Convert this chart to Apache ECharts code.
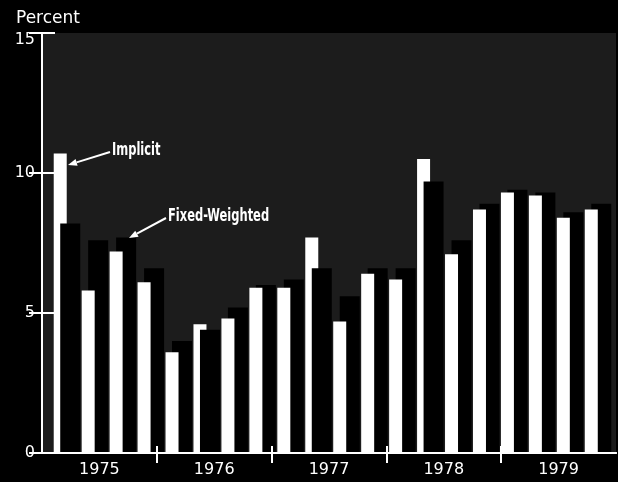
<!DOCTYPE html>
<html>
<head>
<meta charset="utf-8">
<script src="https://cdn.jsdelivr.net/npm/echarts@6/dist/echarts.min.js"></script>
<style>
html,body{margin:0;padding:0;background:#000;}
#chart{width:618px;height:482px;}
</style>
</head>
<body>
<div id="chart"></div>
<script>
// ---- data ----
var years = ['1975', '1976', '1977', '1978', '1979'];
var quarters = ['1975 Q1','1975 Q2','1975 Q3','1975 Q4','1976 Q1','1976 Q2','1976 Q3','1976 Q4',
                '1977 Q1','1977 Q2','1977 Q3','1977 Q4','1978 Q1','1978 Q2','1978 Q3','1978 Q4',
                '1979 Q1','1979 Q2','1979 Q3','1979 Q4'];
var implicit = [10.7, 5.8, 7.2, 6.1, 3.6, 4.6, 4.8, 5.9, 5.9, 7.7, 4.7, 6.4, 6.2, 10.5, 7.1, 8.7, 9.3, 9.2, 8.4, 8.7];
var fixedWeighted = [8.2, 7.6, 7.7, 6.6, 4.0, 4.4, 5.2, 6.0, 6.2, 6.6, 5.6, 6.6, 6.6, 9.7, 7.6, 8.9, 9.4, 9.3, 8.6, 8.9];
var yTicks = [0, 5, 10, 15];

// derived: the shorter bar of each pair is drawn in front
var implicitBehind = implicit.map(function (v, i) { return v > fixedWeighted[i] ? v : '-'; });
var implicitFront = implicit.map(function (v, i) { return v > fixedWeighted[i] ? '-' : v; });
var qPerYear = quarters.length / years.length;
var yearBounds = [], yearMids = [];
for (var k = 0; k < years.length; k++) {
  if (k > 0) yearBounds.push(k * qPerYear);
  yearMids.push(k * qPerYear + qPerYear / 2);
}

var W = '#ffffff';
var numFont = 'DejaVu Sans';
var annFont = "'Liberation Sans Narrow','DejaVu Sans Condensed',sans-serif";

function arrow(x1, y1, x2, y2) {
  var ang = Math.atan2(y2 - y1, x2 - x1);
  var L = 9, H = 3.5;
  var bx = x2 - L * Math.cos(ang), by = y2 - L * Math.sin(ang);
  var px = -Math.sin(ang) * H, py = Math.cos(ang) * H;
  return [
    { type: 'line', z: 100, shape: { x1: x1, y1: y1, x2: bx, y2: by }, style: { stroke: W, lineWidth: 2 } },
    { type: 'polygon', z: 100, shape: { points: [[x2, y2], [bx + px, by + py], [bx - px, by - py]] }, style: { fill: W } }
  ];
}

var chart = echarts.init(document.getElementById('chart'), null, { renderer: 'canvas' });
var option = {
  backgroundColor: '#000',
  animation: false,
  title: {
    text: 'Percent', left: 16, top: 10, padding: 0,
    textStyle: { color: W, fontSize: 17, fontWeight: 'normal', fontFamily: numFont }
  },
  grid: [
    { left: 42, right: 2, top: 33, bottom: 29, show: true, backgroundColor: '#1c1c1c', borderWidth: 0 },
    { left: 53, right: 6, top: 33, bottom: 29 }
  ],
  xAxis: [
    { type: 'value', gridIndex: 0, min: 0, max: quarters.length, position: 'bottom', z: 10,
      axisLine: { show: true, lineStyle: { color: W, width: 2 } }, splitLine: { show: false },
      axisTick: { show: true, customValues: yearBounds, length: 10, lineStyle: { color: W, width: 2 } },
      axisLabel: { show: true, customValues: yearMids, color: W, fontSize: 16, fontFamily: numFont, margin: 9,
        formatter: function (v) { return years[Math.floor(v / qPerYear)]; } } },
    { type: 'value', gridIndex: 0, min: 0, max: quarters.length, position: 'top', z: 10,
      axisLine: { show: true, lineStyle: { color: W, width: 2 } },
      axisTick: { show: false }, axisLabel: { show: false }, splitLine: { show: false } },
    { type: 'value', gridIndex: 0, min: 0, max: quarters.length, position: 'bottom', z: 10,
      axisLine: { show: false }, splitLine: { show: false }, axisLabel: { show: false },
      axisTick: { show: true, inside: true, customValues: yearBounds, length: 7, lineStyle: { color: W, width: 2 } } },
    { type: 'category', gridIndex: 1, data: quarters,
      axisLine: { show: false }, axisTick: { show: false }, axisLabel: { show: false } }
  ],
  yAxis: [
    { type: 'value', gridIndex: 0, min: 0, max: 15, interval: 5, position: 'left', z: 10,
      axisLine: { show: true, lineStyle: { color: W, width: 2 } },
      axisTick: { show: true, inside: true, length: 13, lineStyle: { color: W, width: 2 } },
      splitLine: { show: false },
      axisLabel: { color: W, fontSize: 16, fontFamily: numFont, margin: 7,
        formatter: function (v) { return v === yTicks[yTicks.length - 1] ? '{low|' + v + '}' : String(v); },
        rich: { low: { color: W, fontSize: 16, fontFamily: numFont, padding: [14, 0, 0, 0] } } } },
    { type: 'value', gridIndex: 0, min: 0, max: 15, interval: 5, position: 'right', z: 10,
      axisLine: { show: true, lineStyle: { color: W, width: 2 } },
      axisTick: { show: true, inside: true, length: 13, lineStyle: { color: W, width: 2 } },
      splitLine: { show: false }, axisLabel: { show: false } },
    { type: 'value', gridIndex: 1, min: 0, max: 15, show: false, splitLine: { show: false } }
  ],
  series: [
    { name: 'Implicit', type: 'bar', xAxisIndex: 3, yAxisIndex: 2, stack: 'imp', barWidth: 13, barGap: '-50%',
      z: 2, itemStyle: { color: W }, data: implicitBehind },
    { name: 'Fixed-Weighted', type: 'bar', xAxisIndex: 3, yAxisIndex: 2, barWidth: 20, barGap: '-50%',
      z: 3, itemStyle: { color: '#000' }, data: fixedWeighted },
    { name: 'Implicit ', type: 'bar', xAxisIndex: 3, yAxisIndex: 2, stack: 'imp', barWidth: 13, barGap: '-50%',
      z: 4, itemStyle: { color: W }, data: implicitFront }
  ],
  graphic: [].concat(
    [{ type: 'text', z: 100, x: 112, y: 142, scaleX: 0.75,
       style: { text: 'Implicit', fill: W, fontSize: 17, fontWeight: 'bold', fontFamily: annFont } },
     { type: 'text', z: 100, x: 168, y: 208, scaleX: 0.75,
       style: { text: 'Fixed-Weighted', fill: W, fontSize: 17, fontWeight: 'bold', fontFamily: annFont } }],
    arrow(110, 152, 68, 165),
    arrow(166, 218, 129, 238)
  )
};
chart.setOption(option);
</script>
</body>
</html>
